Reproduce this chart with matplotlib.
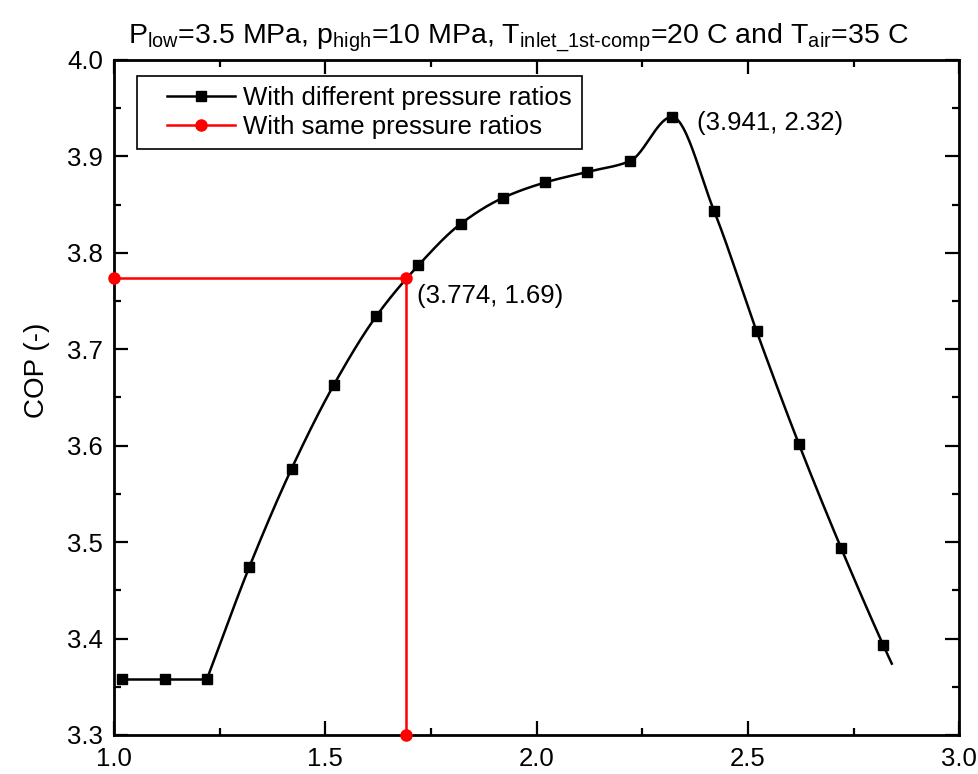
import numpy as np
import matplotlib
matplotlib.use("Agg")
import matplotlib.pyplot as plt
from matplotlib.lines import Line2D
from matplotlib.legend_handler import HandlerLine2D

plt.rcParams['font.family'] = ['Liberation Sans', 'DejaVu Sans']
plt.rcParams['mathtext.fontset'] = 'custom'
plt.rcParams['mathtext.rm'] = 'Liberation Sans'
plt.rcParams['mathtext.it'] = 'Liberation Sans'

# black series: pressure ratio vs COP (markers), last point is curve end only
ratio = [1.02, 1.12, 1.22, 1.32, 1.42, 1.52, 1.62, 1.72, 1.82, 1.92, 2.02,
         2.12, 2.22, 2.32, 2.42, 2.52, 2.62, 2.72, 2.82]
cop = [3.358, 3.358, 3.358, 3.474, 3.576, 3.663, 3.734, 3.787, 3.830, 3.857,
       3.873, 3.884, 3.895, 3.941, 3.843, 3.719, 3.602, 3.494, 3.393]
end_ratio, end_cop = 2.84, 3.374

# red series: same pressure ratios
same_x = [1.0, 1.69, 1.69]
same_y = [3.774, 3.774, 3.3]


def pchip(x, y, xs):
    x = np.asarray(x, float)
    y = np.asarray(y, float)
    h = np.diff(x)
    d = np.diff(y) / h
    m = np.zeros_like(y)
    for k in range(1, len(x) - 1):
        if d[k - 1] * d[k] > 0:
            w1 = 2 * h[k] + h[k - 1]
            w2 = h[k] + 2 * h[k - 1]
            m[k] = (w1 + w2) / (w1 / d[k - 1] + w2 / d[k])
    m[0] = d[0]
    m[-1] = d[-1]
    idx = np.clip(np.searchsorted(x, xs) - 1, 0, len(x) - 2)
    t = (xs - x[idx]) / h[idx]
    h00 = 2 * t**3 - 3 * t**2 + 1
    h10 = t**3 - 2 * t**2 + t
    h01 = -2 * t**3 + 3 * t**2
    h11 = t**3 - t**2
    return (h00 * y[idx] + h10 * h[idx] * m[idx] + h01 * y[idx + 1]
            + h11 * h[idx] * m[idx + 1])


fig = plt.figure(figsize=(9.79, 7.74), dpi=100)
ax = fig.add_axes([0.1164, 0.0504, 0.8636, 0.8721])

# flat start is straight, the rest is smoothed
cx = ratio[2:] + [end_ratio]
cy = cop[2:] + [end_cop]
xs = np.linspace(cx[0], cx[-1], 1000)
ax.plot(ratio[:3], cop[:3], color='black', lw=1.8, zorder=3)
ax.plot(xs, pchip(cx, cy, xs), color='black', lw=1.8, zorder=3)
ax.plot(ratio, cop, ls='none', marker='s', ms=7, color='black', zorder=4)

ax.plot(same_x, same_y, color='red', lw=1.8, marker='o', ms=8,
        clip_on=False, zorder=5)

ax.text(2.38, 3.935, '(3.941, 2.32)', fontsize=18.5, va='center', ha='left')
ax.text(1.716, 3.755, '(3.774, 1.69)', fontsize=18.5, va='center', ha='left')

ax.set_xlim(1.0, 3.0)
ax.set_ylim(3.3, 4.0)
ax.set_xticks([1.0, 1.5, 2.0, 2.5, 3.0])
ax.set_xticks([1.25, 1.75, 2.25, 2.75], minor=True)
ax.set_yticks(np.arange(3.3, 4.001, 0.1))
ax.set_yticks(np.arange(3.35, 4.0, 0.1), minor=True)
ax.xaxis.set_major_formatter(matplotlib.ticker.FormatStrFormatter('%.1f'))
ax.yaxis.set_major_formatter(matplotlib.ticker.FormatStrFormatter('%.1f'))
ax.tick_params(which='both', direction='in', top=True, right=True,
               labelsize=18.5, width=1.6)
ax.tick_params(which='major', length=10)
ax.tick_params(which='minor', length=5)
ax.tick_params(axis='x', pad=9)
ax.tick_params(axis='y', pad=8)
for s in ax.spines.values():
    s.set_linewidth(2)

ax.set_ylabel('COP (-)', fontsize=20)
ax.yaxis.set_label_coords(-0.076, 0.54)
ax.set_title(r'P$_{\mathrm{low}}$=3.5 MPa, p$_{\mathrm{high}}$=10 MPa, '
             r'T$_{\mathrm{inlet\_1st\text{-}comp}}$=20 C and T$_{\mathrm{air}}$=35 C',
             fontsize=20.5, pad=12, x=0.478)

handles = [
    Line2D([], [], color='black', lw=1.8, marker='s', ms=7),
    Line2D([], [], color='red', lw=1.8, marker='o', ms=8),
]
leg = ax.legend(handles, ['With different pressure ratios',
                          'With same pressure ratios'],
                loc='upper left', bbox_to_anchor=(0.027, 0.977),
                borderaxespad=0, fontsize=18.5,
                fancybox=False, edgecolor='black', framealpha=1,
                handlelength=3.43, borderpad=0.4, labelspacing=0.2,
                handletextpad=0.3,
                handler_map={Line2D: HandlerLine2D(xpad=0.77)})
leg.get_frame().set_linewidth(1.2)

fig.savefig('out.png', dpi=100)
